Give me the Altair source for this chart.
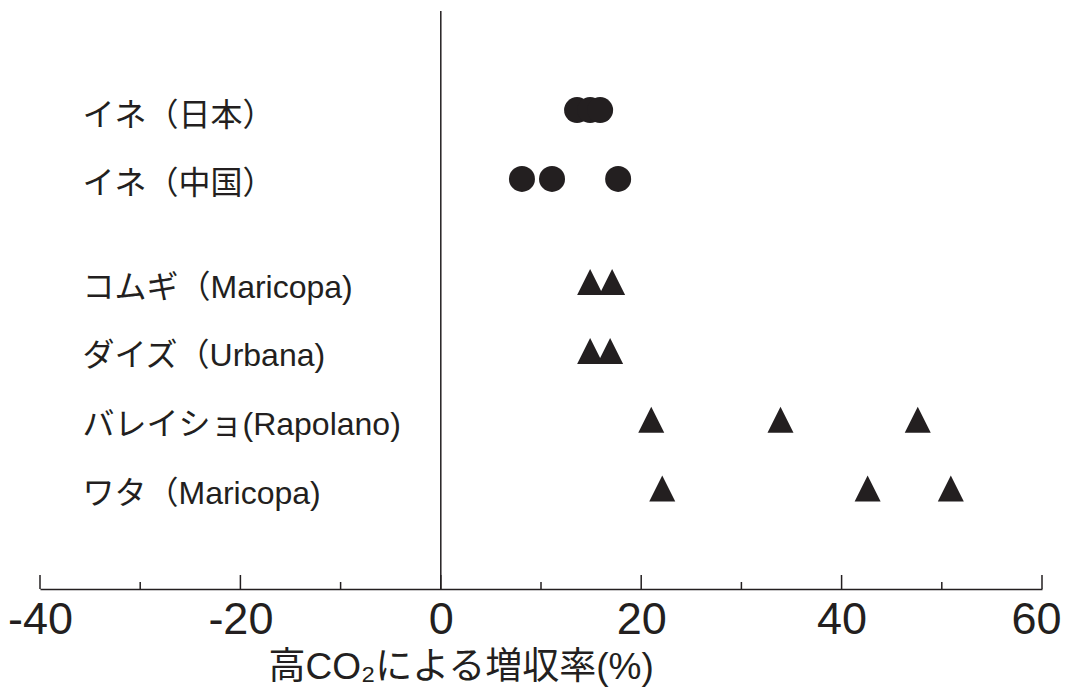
import altair as alt
import pandas as pd

# ---- data ----
crops = ["イネ（日本）", "イネ（中国）", "コムギ（Maricopa)", "ダイズ（Urbana)",
         "バレイショ(Rapolano)", "ワタ（Maricopa)"]
row_pos = [0, 1, 2.5, 3.5, 4.5, 5.5]
crop_values = [
    [13.6, 14.9, 15.9],
    [8.1, 11.1, 17.7],
    [14.9, 17.1],
    [14.9, 16.9],
    [21.0, 33.9, 47.6],
    [22.1, 42.6, 50.9],
]
crop_marker = ["circle", "circle", "triangle", "triangle", "triangle", "triangle"]
major_ticks = [-40, -20, 0, 20, 40, 60]
minor_ticks = [-30, -10, 10, 30, 50]
x_title = "高CO₂による増収率(%)"

rows = []
for name, pos, vals, mk in zip(crops, row_pos, crop_values, crop_marker):
    for v in vals:
        rows.append({"crop": name, "row": pos, "value": v, "marker": mk})
df = pd.DataFrame(rows)

INK = "#231f20"
FONT = "Liberation Sans, Arial, Noto Sans CJK JP"
W, H = 1002, 578

label_expr = ""
for name, pos in zip(crops, row_pos):
    label_expr += f"datum.value == {pos} ? '{name}' : "
label_expr += "''"

xscale = alt.Scale(domain=[-40, 60], nice=False, zero=False)
yscale = alt.Scale(domain=[-1.44, 6.96], nice=False, zero=False, reverse=True)

last_tick = major_ticks[-1]

points = alt.Chart(df).mark_point(filled=True, opacity=1, color=INK, size=676).encode(
    x=alt.X("value:Q", scale=xscale,
            axis=alt.Axis(values=major_ticks, ticks=False, tickSize=0, grid=False,
                          domainColor=INK, domainWidth=1.5,
                          labelExpr="'' + datum.value",
                          labelFont=FONT, labelFontSize=45, labelColor=INK,
                          labelPadding=8, labelFlush=False, labelOverlap=False,
                          labelBound=False,
                          labelOffset={"condition": {"test": f"datum.value === {last_tick}",
                                                     "value": -6},
                                       "value": 0},
                          title=x_title, titleFont=FONT, titleFontSize=37,
                          titleFontWeight="normal", titleColor=INK,
                          titleAnchor="start", titleAlign="left",
                          titleX=228, titleY=89, titleBaseline="alphabetic",
                          titleLimit=1000)),
    y=alt.Y("row:Q", scale=yscale,
            axis=alt.Axis(values=row_pos, labelExpr=label_expr, domain=False,
                          ticks=False, tickSize=0, grid=False,
                          labelAlign="left", labelBaseline="middle",
                          labelPadding=-42, labelOffset=5,
                          labelFont=FONT, labelFontSize=32, labelColor=INK,
                          labelLimit=600, labelOverlap=False, labelFlush=False,
                          title=None)),
    shape=alt.Shape("marker:N",
                    scale=alt.Scale(domain=["circle", "triangle"],
                                    range=["circle", "M0,-1L1,1L-1,1Z"]),
                    legend=None),
)

zero_line = alt.Chart(pd.DataFrame({"z": [0]})).mark_rule(
    color=INK, strokeWidth=1.5).encode(x=alt.X("z:Q", scale=xscale))

major = alt.Chart(pd.DataFrame({"t": major_ticks})).mark_rule(
    color=INK, strokeWidth=1.5).encode(
    x=alt.X("t:Q", scale=xscale), y=alt.value(H - 14), y2=alt.value(H))

minor = alt.Chart(pd.DataFrame({"t": minor_ticks})).mark_rule(
    color=INK, strokeWidth=1.5).encode(
    x=alt.X("t:Q", scale=xscale), y=alt.value(H - 7), y2=alt.value(H))

chart = alt.layer(zero_line, major, minor, points).properties(
    width=W, height=H,
    autosize=alt.AutoSizeParams(type="none"),
    padding={"left": 32, "top": 3, "right": 20, "bottom": 98},
).configure(background="white").configure_view(stroke=None)

chart.save("out.html", embed_options={"renderer": "svg", "actions": False})
